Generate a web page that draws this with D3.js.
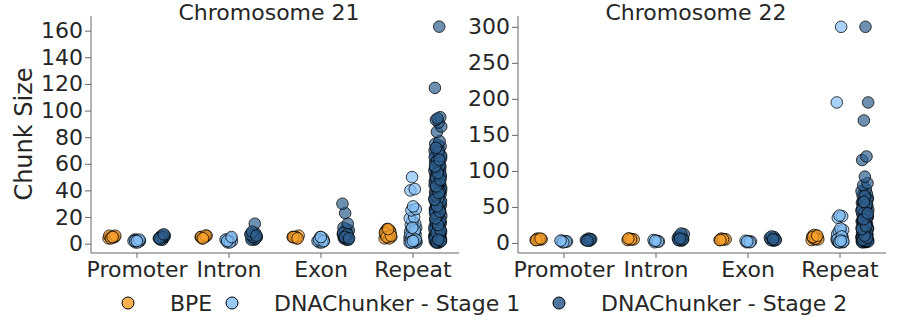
<!DOCTYPE html>
<html>
<head>
<meta charset="utf-8">
<script src="https://cdn.jsdelivr.net/npm/d3@7"></script>
<style>
  body { margin: 0; background: #fff; }
  text { font-family: "DejaVu Sans", sans-serif; fill: #262626; }
</style>
</head>
<body>
<div id="chart"></div>
<script>
(function() {
	// categories and series
	var categories = ["Promoter", "Intron", "Exon", "Repeat"];
	var seriesNames = ["BPE", "DNAChunker - Stage 1", "DNAChunker - Stage 2"];
	var seriesColors = ["#f9a12e", "#83bff5", "#2f5f8f"];

	// chunk sizes, one list per category
	var chr21_bpe = [
		[4, 5, 5, 5, 5, 6, 5, 4, 6, 5],
		[5, 5, 4, 6, 5, 5, 6, 4],
		[5, 4, 5, 6, 5, 5, 4],
		[4, 5, 6, 7, 8, 9, 10, 11, 5, 6, 7, 9, 10, 8, 4, 5, 6, 11]
	];
	var chr21_s1 = [
		[1, 2, 2, 3, 2, 3, 2, 1, 2, 3, 2],
		[1, 2, 2, 3, 4, 2, 3, 1, 2, 5],
		[1, 2, 3, 2, 4, 5, 2, 1, 3, 2, 5],
		[1, 1, 2, 2, 3, 3, 4, 5, 6, 7, 8, 9, 10, 11, 12, 13, 14, 15, 17, 19, 20, 25, 26, 28, 40, 41, 50,
		 1, 2, 3, 2, 4, 6, 8, 5, 3, 2, 1, 10, 12, 1, 2, 1, 3, 2]
	];
	var chr21_s2 = [
		[3, 4, 5, 6, 4, 5, 3, 6, 5, 4, 7],
		[3, 4, 5, 6, 7, 8, 4, 5, 6, 3, 4, 5, 7, 15, 9, 6],
		[3, 4, 5, 6, 7, 8, 9, 10, 11, 12, 15, 23, 30, 4, 5, 3, 6, 8, 7, 5, 4],
		[1, 1, 2, 2, 2, 3, 3, 3, 4, 4, 4, 5, 5, 5, 6, 6, 7, 7, 8, 8, 9, 10, 10, 11, 12, 13, 14, 15, 16, 17,
		 18, 19, 20, 21, 22, 23, 24, 25, 26, 27, 28, 29, 30, 31, 32, 33, 34, 35, 36, 37, 38, 39, 40, 41, 42,
		 43, 44, 45, 46, 47, 48, 49, 50, 51, 52, 53, 54, 55, 56, 57, 58, 60, 61, 62, 63, 64, 65, 66, 67, 68,
		 70, 71, 72, 73, 74, 75, 77, 84, 88, 91, 93, 95, 94, 117, 163,
		 2, 3, 4, 5, 3, 2, 6, 8, 12, 15, 20, 25, 30, 35, 40, 45, 50, 55, 60, 65,
		 1, 2, 3, 4, 5, 7, 9, 11, 13, 16, 18, 21, 23, 27, 29, 32, 34, 37, 39, 42, 44, 47, 49, 52, 54,
		 57, 59, 62, 66, 69, 72, 2, 3, 4, 6, 8, 10, 14, 19, 24, 28, 33, 38, 43, 48, 53, 58, 63, 1, 2, 3]
	];

	var chr22_bpe = [
		[4, 5, 6, 5, 5, 4, 6],
		[4, 5, 6, 5, 5, 6],
		[4, 5, 6, 5, 5, 4],
		[4, 5, 6, 7, 8, 9, 10, 11, 5, 6, 8, 10]
	];
	var chr22_s1 = [
		[1, 2, 2, 3, 2, 1, 3],
		[1, 2, 3, 4, 2, 3],
		[1, 2, 2, 3, 1, 2],
		[1, 1, 2, 2, 3, 4, 5, 6, 7, 8, 10, 12, 14, 16, 18, 20, 35, 37, 38, 195, 300, 2, 3, 1, 5, 9, 1, 2, 3]
	];
	var chr22_s2 = [
		[3, 4, 5, 6, 4, 5, 3],
		[3, 4, 5, 6, 7, 8, 10, 12, 13, 4, 5, 6],
		[3, 4, 5, 6, 7, 8, 9, 4, 5],
		[1, 1, 2, 2, 3, 3, 4, 4, 5, 5, 6, 7, 8, 9, 10, 11, 12, 14, 16, 18, 20, 22, 24, 26, 28, 30, 32, 34,
		 36, 38, 40, 42, 44, 46, 48, 50, 52, 54, 56, 58, 60, 62, 64, 66, 68, 70, 72, 75, 80, 83, 92, 115,
		 120, 170, 195, 300, 2, 3, 5, 8, 12, 15, 20, 25, 30, 35, 40, 45, 50, 55, 60, 65,
		 1, 2, 3, 4, 6, 9, 13, 17, 21, 27, 31, 37, 43, 47, 53, 57, 2, 3, 4, 7, 10, 19, 23, 33, 41]
	];

	var chr21_ticks = [0, 20, 40, 60, 80, 100, 120, 140, 160];
	var chr22_ticks = [0, 50, 100, 150, 200, 250, 300];

	var width = 897;
	var height = 325;

	var svg = d3.select("#chart")
		.append("svg")
		.attr("width", width)
		.attr("height", height);

	var panels = [
		{ title: "Chromosome 21", series: [chr21_bpe, chr21_s1, chr21_s2], ticks: chr21_ticks,
		  x0: 91, x1: 459, domain: [-7, 171] },
		{ title: "Chromosome 22", series: [chr22_bpe, chr22_s1, chr22_s2], ticks: chr22_ticks,
		  x0: 518, x1: 886, domain: [-14, 315] }
	];
	var top = 16, bottom = 253;

	panels.forEach(function(p) {
		var x = d3.scaleBand().domain(categories).range([p.x0, p.x1]).padding(0);
		var y = d3.scaleLinear().domain(p.domain).range([bottom, top]);
		var dodge = d3.scalePoint().domain(d3.range(3)).range([-0.27, 0.27]);

		var g = svg.append("g");

		// y axis
		var yAxis = g.append("g")
			.attr("transform", "translate(" + p.x0 + ",0)")
			.call(d3.axisLeft(y).tickValues(p.ticks).tickSize(6).tickPadding(2));
		yAxis.select(".domain").attr("stroke", "#666").attr("d", "M0," + top + "V" + bottom);
		yAxis.selectAll(".tick line").attr("stroke", "#666");
		yAxis.selectAll(".tick text")
			.style("font-size", "22px").attr("fill", "#262626");

		// x axis
		var xAxis = g.append("g")
			.attr("transform", "translate(0," + bottom + ")")
			.call(d3.axisBottom(x).tickSize(5).tickPadding(3));
		xAxis.select(".domain").attr("stroke", "#666").attr("d", "M" + p.x0 + ",0H" + p.x1);
		xAxis.selectAll(".tick line").attr("stroke", "#666");
		xAxis.selectAll(".tick text")
			.style("font-size", "22px").attr("fill", "#262626");

		// points
		p.series.forEach(function(ser, si) {
			var pts = [];
			ser.forEach(function(vals, ci) {
				vals.forEach(function(v, i) {
					pts.push({ cat: categories[ci], v: v, i: i });
				});
			});
			g.append("g").selectAll("circle")
				.data(pts)
				.enter()
				.append("circle")
				.attr("cx", function(d) {
					var jit = ((d.i * 0.618034 + si * 0.3) % 1 - 0.5) * 7;
					return x(d.cat) + x.bandwidth() / 2 + dodge(si) * x.bandwidth() + jit;
				})
				.attr("cy", function(d) { return y(d.v); })
				.attr("r", 5.8)
				.attr("fill", seriesColors[si])
				.attr("fill-opacity", 0.7)
				.attr("stroke", "#000")
				.attr("stroke-opacity", 0.75)
				.attr("stroke-width", 1);
		});

		g.append("text")
			.attr("x", (p.x0 + p.x1) / 2 - 6)
			.attr("y", 20)
			.attr("text-anchor", "middle")
			.style("font-size", "22px")
			.text(p.title);
	});

	svg.append("text")
		.attr("transform", "translate(32,134) rotate(-90)")
		.attr("text-anchor", "middle")
		.style("font-size", "24px")
		.text("Chunk Size");

	// legend
	var legendX = [128, 232, 559];
	var legend = svg.append("g");
	seriesNames.forEach(function(name, i) {
		legend.append("circle")
			.attr("cx", legendX[i])
			.attr("cy", 303)
			.attr("r", 6)
			.attr("fill", seriesColors[i])
			.attr("fill-opacity", 0.85)
			.attr("stroke", "#000")
			.attr("stroke-width", 1);
		legend.append("text")
			.attr("x", legendX[i] + 42)
			.attr("y", 311)
			.style("font-size", "22px")
			.text(name);
	});
})();
</script>
</body>
</html>
